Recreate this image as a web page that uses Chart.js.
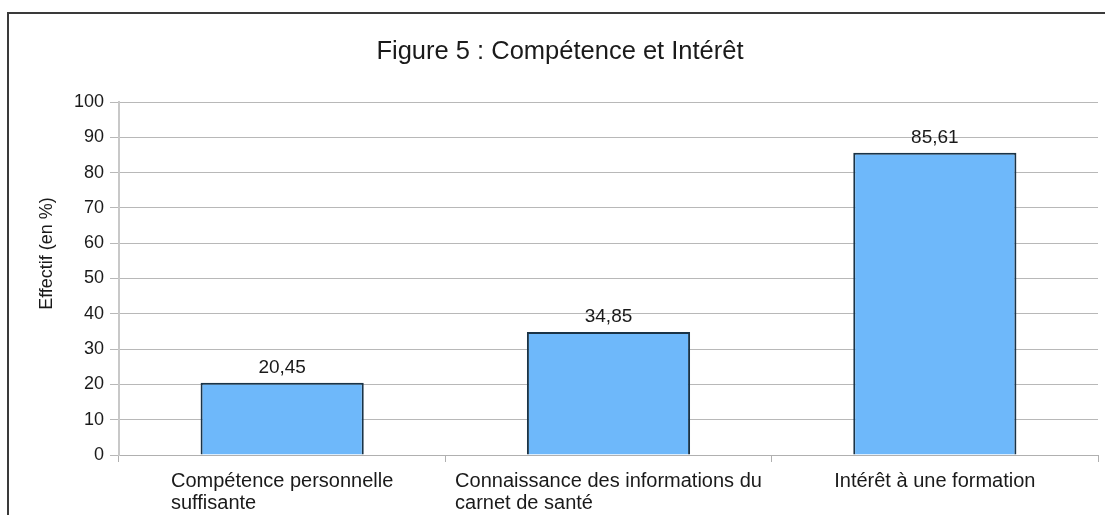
<!DOCTYPE html>
<html>
<head>
<meta charset="utf-8">
<script src="https://cdn.jsdelivr.net/npm/chart.js@4/dist/chart.umd.min.js"></script>
<style>
  html, body { margin: 0; padding: 0; background: #fff; }
  #wrap { position: relative; width: 1105px; height: 515px; overflow: hidden; }
  #frame {
    position: absolute; left: 7px; top: 12px; width: 1200px; height: 600px;
    border-top: 2px solid #3a3a3a; border-left: 2px solid #3a3a3a;
  }
  #chart { position: absolute; left: 0; top: 0; }
</style>
</head>
<body>
<div id="wrap">
  <div id="frame"></div>
  <canvas id="chart" width="1105" height="515"></canvas>
</div>
<script>
const chartTitle = "Figure 5 : Compétence et Intérêt";
const axisTitle = "Effectif (en %)";
const categories = [
  ["Compétence personnelle", "suffisante"],
  ["Connaissance des informations du", "carnet de santé"],
  ["Intérêt à une formation"],
];
const effectifs = [20.45, 34.85, 85.61];
const yMin = 0;
const yMax = 100;
const yStep = 10;

const FONT = "'Liberation Sans', Arial, sans-serif";
const TEXT = "#1a1a1a";

Chart.defaults.font.family = FONT;

function formatValue(value) {
  return value.toFixed(2).replace(".", ",");
}

// value above each bar, french decimal comma
const valueLabels = {
  id: "valueLabels",
  afterDatasetsDraw(chart) {
    const { ctx } = chart;
    const meta = chart.getDatasetMeta(0);
    ctx.save();
    ctx.font = `19px ${FONT}`;
    ctx.fillStyle = TEXT;
    ctx.textAlign = "center";
    ctx.textBaseline = "alphabetic";
    meta.data.forEach((bar, index) => {
      ctx.fillText(formatValue(effectifs[index]), bar.x, bar.y - 10);
    });
    ctx.restore();
  },
};

// category labels: block centred on the category, lines left aligned
const categoryLabels = {
  id: "categoryLabels",
  afterDraw(chart) {
    const { ctx } = chart;
    const xScale = chart.scales.x;
    ctx.save();
    ctx.font = `20px ${FONT}`;
    ctx.fillStyle = TEXT;
    ctx.textAlign = "left";
    ctx.textBaseline = "alphabetic";
    categories.forEach((lines, index) => {
      const center = xScale.getPixelForTick(index);
      const widest = Math.max(...lines.map((line) => ctx.measureText(line).width));
      const left = center - widest / 2;
      lines.forEach((line, row) => {
        ctx.fillText(line, left, xScale.bottom - 28 + row * 22);
      });
    });
    ctx.restore();
  },
};

const yAxisTitle = {
  id: "yAxisTitle",
  afterDraw(chart) {
    const { ctx, chartArea } = chart;
    ctx.save();
    ctx.translate(47, (chartArea.top + chartArea.bottom) / 2 - 25);
    ctx.rotate(-Math.PI / 2);
    ctx.font = `18px ${FONT}`;
    ctx.fillStyle = TEXT;
    ctx.textAlign = "center";
    ctx.textBaseline = "middle";
    ctx.fillText(axisTitle, 0, 0);
    ctx.restore();
  },
};

new Chart(document.querySelector("#chart"), {
  type: "bar",
  data: {
    labels: categories,
    datasets: [
      {
        data: effectifs,
        backgroundColor: "#6eb8fa",
        borderColor: "#1a3346",
        borderWidth: 2,
        barPercentage: 0.5,
        categoryPercentage: 1,
      },
    ],
  },
  options: {
    responsive: false,
    animation: false,
    layout: { padding: { left: 22, right: 7, top: 0, bottom: 0 } },
    plugins: {
      legend: { display: false },
      tooltip: { enabled: false },
      title: {
        display: true,
        text: chartTitle,
        color: TEXT,
        font: { size: 25.5, weight: "normal" },
        padding: { top: 37, bottom: 34.4 },
      },
    },
    scales: {
      x: {
        grid: { display: true, drawOnChartArea: false, tickLength: 7, color: "#b0b0b0", offset: true },
        border: { color: "#b0b0b0", width: 1 },
        ticks: { color: "transparent", font: { size: 20 } },
        afterFit(scale) {
          scale.height = 60;
        },
      },
      y: {
        min: yMin,
        max: yMax,
        ticks: { stepSize: yStep, color: TEXT, font: { size: 18 }, padding: 6 },
        grid: { color: "#b8b8b8", tickLength: 9 },
        border: { color: "#c8c8c8", width: 2 },
        afterFit(scale) {
          scale.width = 97;
        },
      },
    },
  },
  plugins: [valueLabels, categoryLabels, yAxisTitle],
});
</script>
</body>
</html>
